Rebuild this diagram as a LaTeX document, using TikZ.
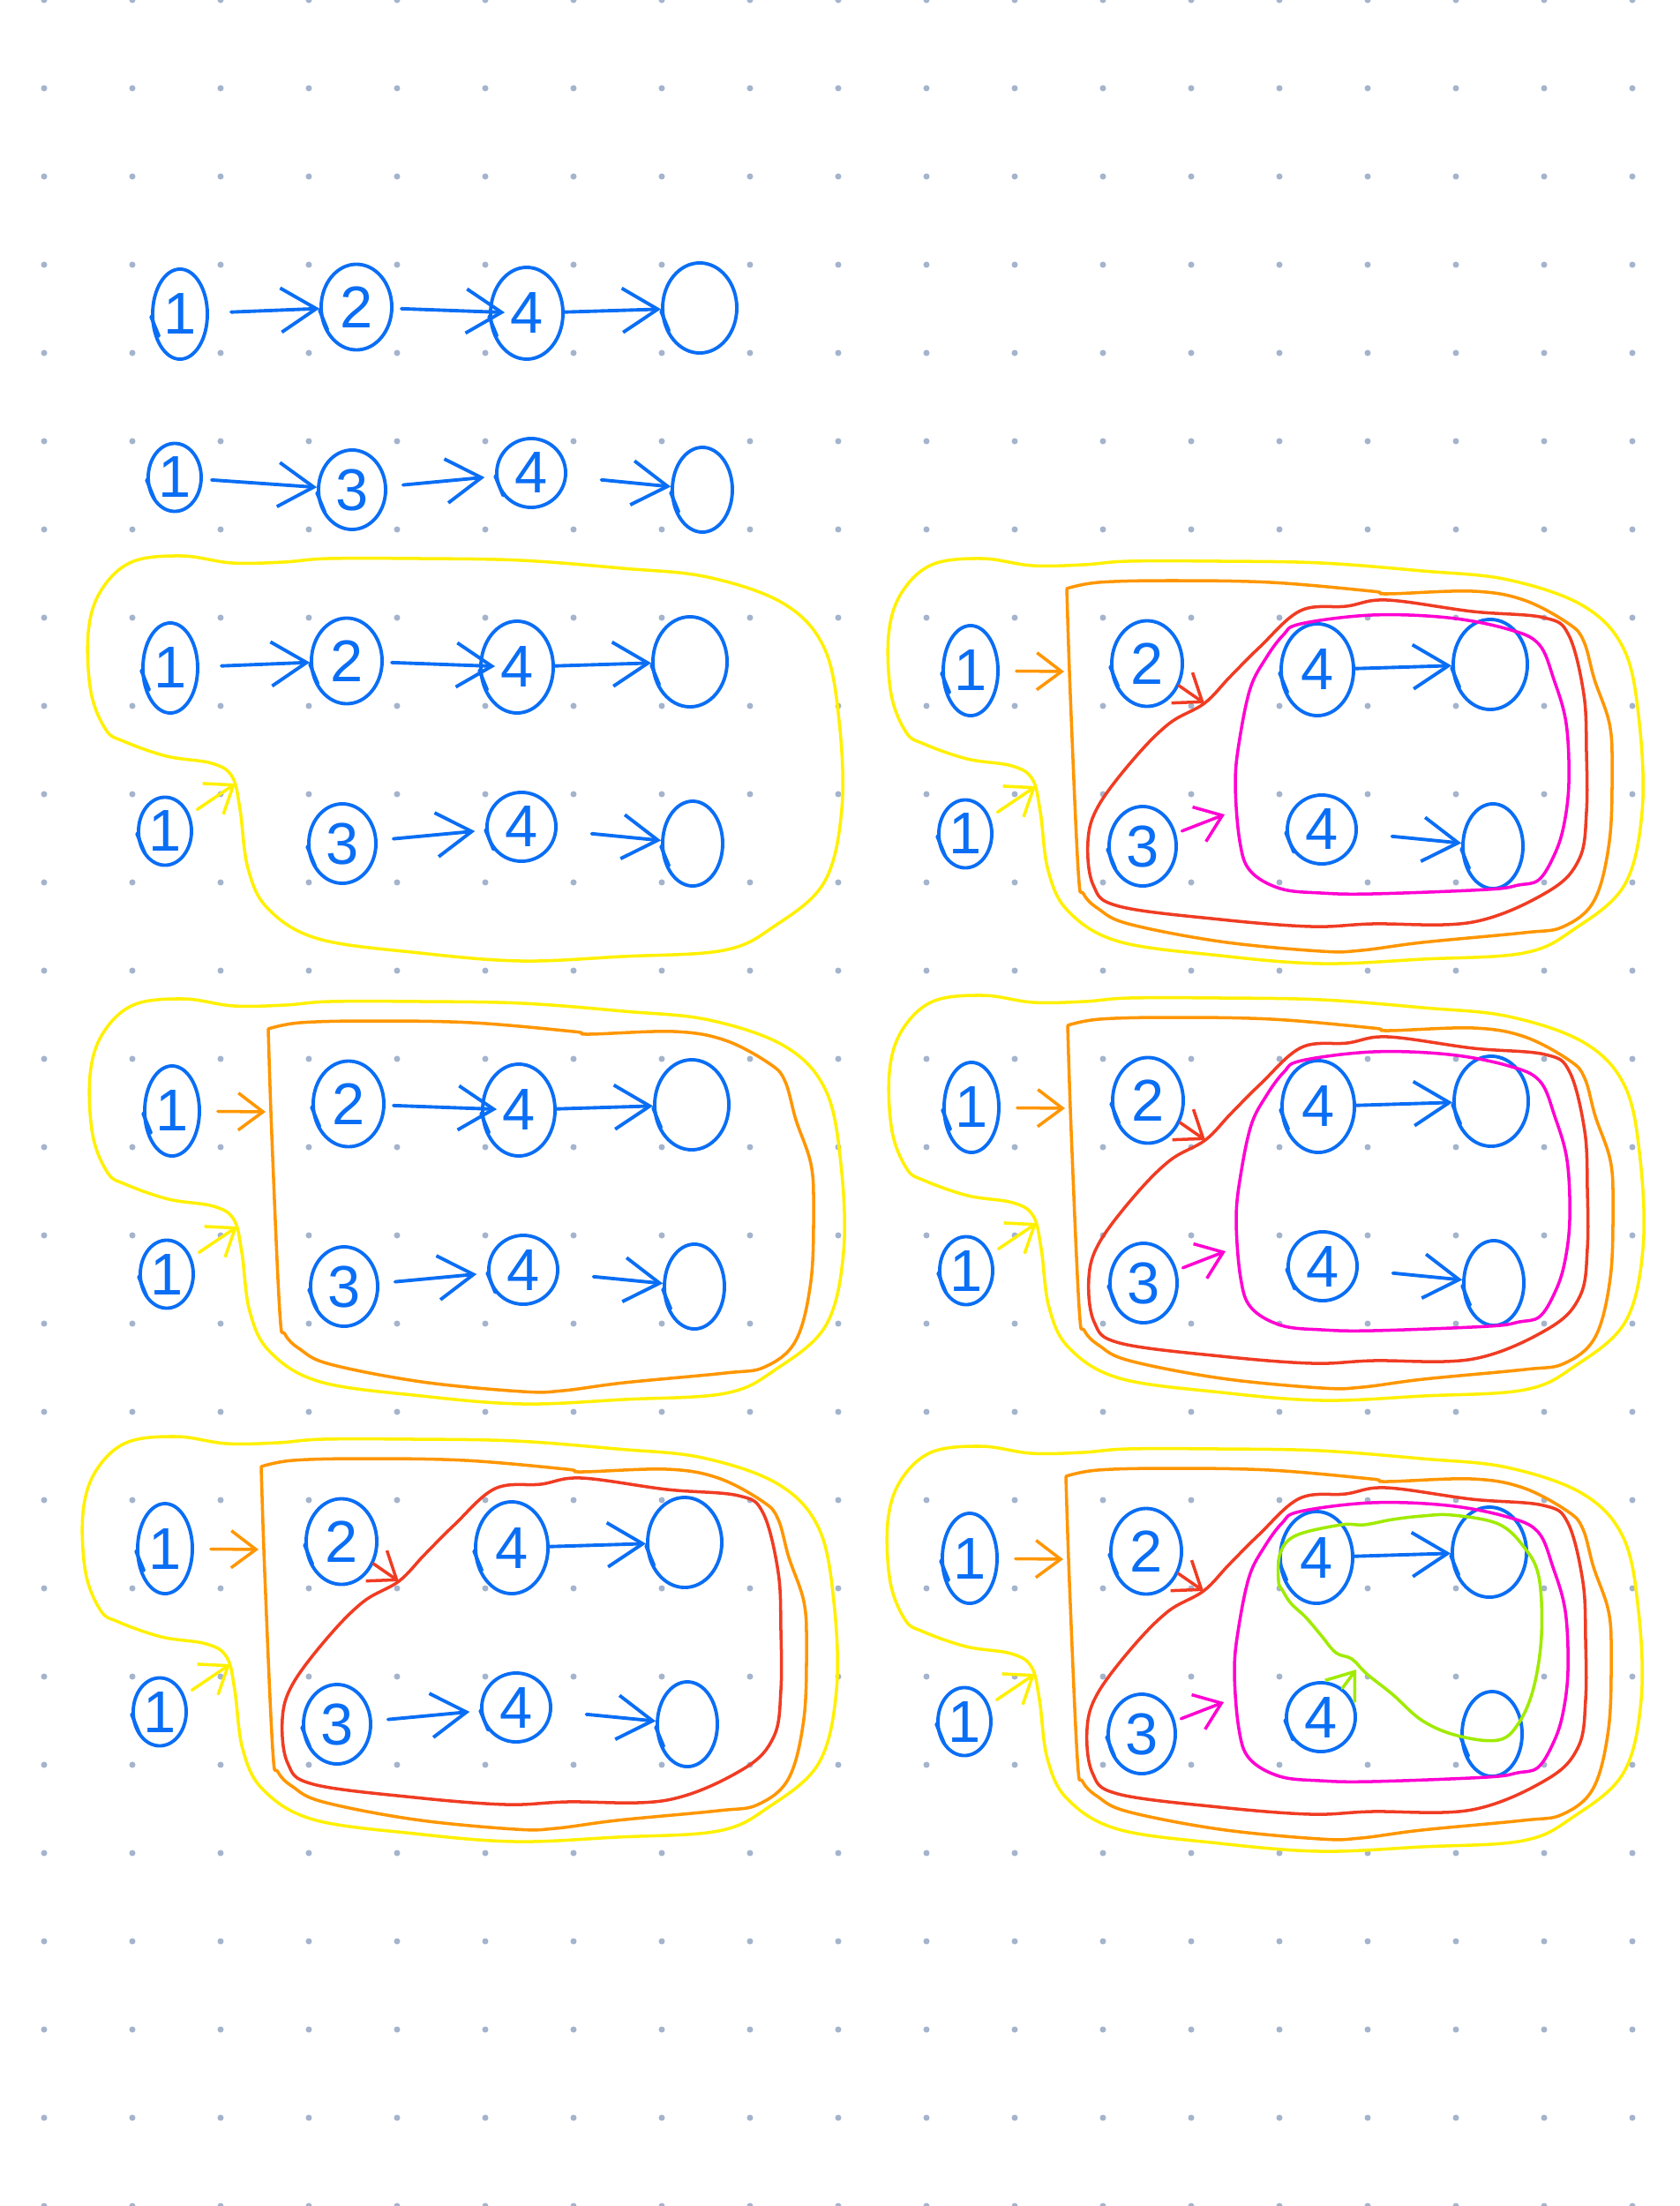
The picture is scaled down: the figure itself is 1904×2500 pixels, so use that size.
\documentclass[tikz,border=0pt]{standalone}
\usepackage{fontspec}
\setmainfont{Liberation Sans}
\usetikzlibrary{arrows.meta,shapes.geometric}

\definecolor{pen}{RGB}{10,110,245}
\definecolor{dotc}{RGB}{165,180,205}
\definecolor{ylw}{RGB}{255,240,0}
\definecolor{org}{RGB}{255,150,0}
\definecolor{rd}{RGB}{240,60,35}
\definecolor{mag}{RGB}{255,0,210}
\definecolor{grn}{RGB}{160,235,0}

% the two chains, in the coordinates of the top rows
\newcommand{\chainnodes}{%
 \node[nd,minimum width=.62cm,minimum height=1.02cm] (n1) at (204,356) {1};
 \node[nd,minimum width=.80cm,minimum height=.97cm] (n2) at (404,348) {2};
 \node[nd,minimum width=.82cm,minimum height=1.04cm] (n4) at (597,355) {4};
 \node[nd,minimum width=.84cm,minimum height=1.02cm] (ne) at (793,349) {};
 \node[nd,minimum width=.60cm,minimum height=.77cm] (m1) at (198,541) {1};
 \node[nd,minimum width=.76cm,minimum height=.90cm] (m3) at (399,555) {3};
 \node[nd,minimum width=.78cm,minimum height=.78cm] (m4) at (602,536) {4};
 \node[nd,minimum width=.68cm,minimum height=.96cm] (me) at (796,555) {};
 \foreach \q in {n1,n2,n4,ne,m1,m3,m4,me}{\draw[tl] (\q.185) -- ++(9,22);}
}
\newcommand{\linkonetwo}{\draw[bl,shorten <=.25cm] (n1) -- (n2);}
\newcommand{\linktwofour}{\draw[bl,shorten <=.09cm,shorten >=-.18cm] (n2) -- (n4);}
\newcommand{\linkfourend}{\draw[bl] (n4) -- (ne);}
\newcommand{\linkonethree}{\draw[bl,shorten <=.1cm] (m1) -- (m3);}
\newcommand{\linkthreefour}{\draw[bl,shorten <=.18cm,shorten >=.12cm] (m3) -- (m4);}
\newcommand{\linkfourlast}{\draw[bl,shorten <=.39cm] (m4) -- (me);}

% the coloured outlines
\newcommand{\loopyellow}{%
 \draw[hl,ylw] plot[smooth cycle,tension=.6] coordinates {(111,316) (125,269) (160,236) (217,229) (274,237) (332,236) (383,232) (487,232) (601,234) (716,243) (813,253) (899,283) (945,333) (962,416) (965,516) (945,599) (888,649) (831,676) (716,683) (601,688) (487,679) (372,663) (315,629) (292,583) (283,516) (274,479) (251,464) (200,456) (151,439) (131,426) (114,383)};
 \coordinate (yin) at (278,487);
 \draw[hd,ylw,shorten <=.1cm] (m1) -- (yin);
}
\newcommand{\looporange}{%
 \draw[hl,org] plot[smooth,tension=.6] coordinates {(313,263) (349,256) (429,254) (544,256) (659,266) (676,269) (773,266) (831,276) (882,303) (899,323) (911,366) (928,416) (931,466) (928,549) (911,616) (876,646) (831,653) (716,664) (647,673) (601,674) (487,663) (383,643) (349,626) (332,609) (326,583) (317,383) (313,263)};
 \coordinate (oin) at (310,357);
 \draw[hd,org,shorten <=.19cm] (n1) -- (oin);
}
\newcommand{\loopred}{%
 \draw[hl,rd] plot[smooth cycle,tension=.6] coordinates {(469,393) (498,363) (532,329) (578,288) (630,283) (676,276) (773,289) (854,296) (882,316) (899,383) (902,449) (902,516) (894,569) (859,606) (773,641) (659,643) (590,646) (487,638) (372,623) (343,599) (337,549) (349,509) (389,456) (429,416)};
 \coordinate (rin) at (469,393);
 \draw[hd,rd] (n2) -- (rin);
}
\newcommand{\loopmagenta}{%
 \draw[hl,mag] plot[smooth cycle,tension=.6] coordinates {(558,316) (578,303) (659,293) (745,296) (813,309) (848,326) (865,366) (879,416) (882,483) (876,533) (865,566) (848,593) (825,599) (790,604) (659,609) (601,608) (555,603) (521,583) (509,549) (504,483) (509,433) (521,376) (538,343)};
 \coordinate (min) at (492,519);
 \draw[hd,mag,shorten <=.07cm] (m3) -- (min);
}
\newcommand{\loopgreen}{%
 \draw[hl,grn] plot[smooth cycle,tension=.6] coordinates {(554,382) (556,350) (574,330) (625,318) (651,318) (683,312) (717,308) (751,307) (803,317) (832,343) (849,377) (852,443) (843,503) (826,543) (803,562) (757,557) (717,540) (683,510) (654,487) (637,470) (619,463) (602,443) (585,423) (568,407) (559,393)};
 \coordinate (gin) at (642,482);
 \draw[hd,grn] (m4) -- (gin);
}

\begin{document}
\begin{tikzpicture}[x=.01cm,y=-.01cm,
 nd/.style={ellipse,draw=pen,line width=1.1pt,inner sep=0pt,text=pen,font=\fontsize{19}{19}\selectfont},
 tl/.style={draw=pen,line width=1.1pt,line cap=round},
 bl/.style={draw=pen,line width=1.1pt,line cap=round,-{Straight Barb[length=4mm,width=5mm]}},
 hl/.style={line width=1pt,line cap=round,line join=round},
 hd/.style={hl,-{Straight Barb[length=2.8mm,width=4.2mm]}}]
\useasboundingbox (0,0) rectangle (1904,2500);
\foreach \i in {0,...,18}{
 \foreach \j in {0,...,25}{\fill[dotc] ({50+100*\i},{100*\j}) circle (1pt);}
}
% top rows
\begin{scope}[name prefix=top-]
\chainnodes
\linkonetwo \linktwofour \linkfourend
\linkonethree \linkthreefour \linkfourlast
\end{scope}
% left column
\begin{scope}[shift={(-11,401)},name prefix=pa-]
\chainnodes
\linkonetwo \linktwofour \linkfourend
\linkthreefour \linkfourlast
\loopyellow
\end{scope}
\begin{scope}[shift={(-9,903)},name prefix=pc-]
\chainnodes
\linktwofour \linkfourend
\linkthreefour \linkfourlast
\loopyellow \looporange
\end{scope}
\begin{scope}[shift={(-17,1399)},name prefix=pe-]
\chainnodes
\linkfourend
\linkthreefour \linkfourlast
\loopyellow \looporange \loopred
\end{scope}
% right column
\begin{scope}[shift={(896,404)},name prefix=pb-]
\chainnodes
\linkfourend \linkfourlast
\loopyellow \looporange \loopred \loopmagenta
\end{scope}
\begin{scope}[shift={(897,899)},name prefix=pd-]
\chainnodes
\linkfourend \linkfourlast
\loopyellow \looporange \loopred \loopmagenta
\end{scope}
\begin{scope}[shift={(895,1410)},name prefix=pf-]
\chainnodes
\linkfourend
\loopyellow \looporange \loopred \loopmagenta \loopgreen
\end{scope}
\end{tikzpicture}
\end{document}
